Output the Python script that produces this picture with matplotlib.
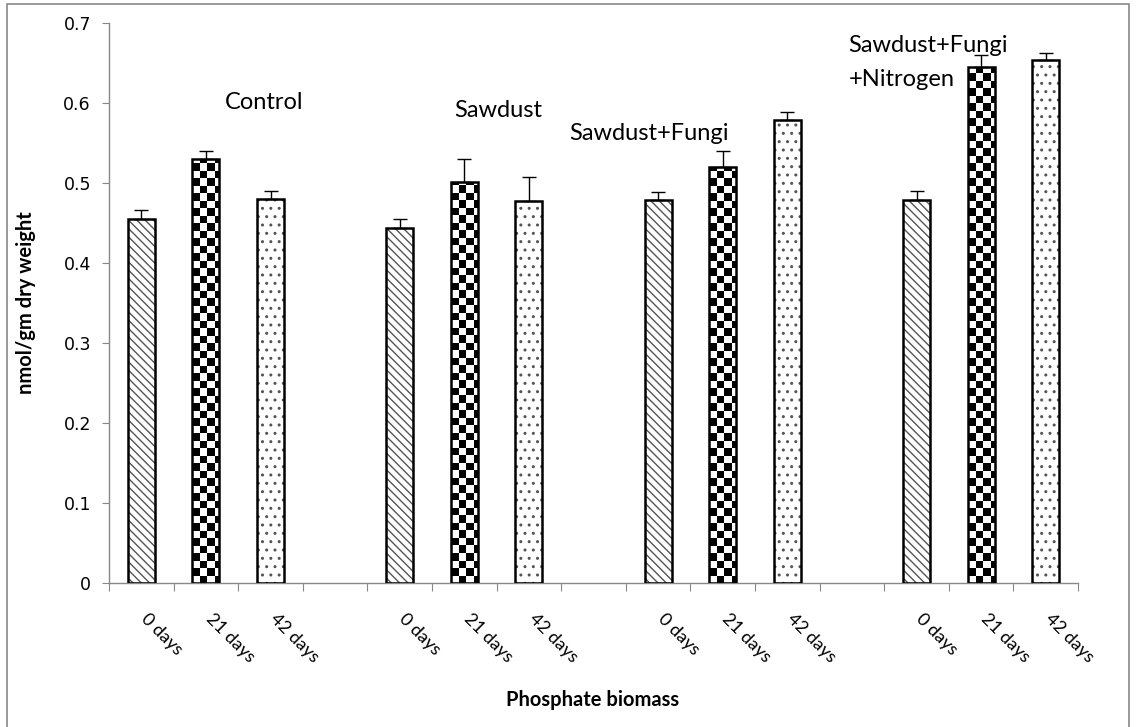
import numpy as np
import matplotlib
matplotlib.use("Agg")
import matplotlib.pyplot as plt
from matplotlib.patches import Rectangle
from matplotlib.transforms import ScaledTranslation

# dati
gruppi = ["Control", "Sawdust", "Sawdust+Fungi", "Sawdust+Fungi\n+Nitrogen"]
giorni = ["0 days", "21 days", "42 days"]
valori = [
    [0.455, 0.530, 0.480],
    [0.444, 0.501, 0.477],
    [0.479, 0.520, 0.579],
    [0.479, 0.645, 0.654],
]
errori = [
    [0.011, 0.010, 0.010],
    [0.011, 0.029, 0.030],
    [0.010, 0.020, 0.010],
    [0.011, 0.015, 0.009],
]

font_testo = ["Lato", "DejaVu Sans"]
plt.rcParams["hatch.linewidth"] = 1.0

fig = plt.figure(figsize=(11.39, 7.27), dpi=100)
ax = fig.add_axes([109 / 1139, 1 - 583 / 727, (1078 - 109) / 1139, (583 - 23) / 727])

# 3 barre per gruppo + uno spazio vuoto tra i gruppi
n_slot = len(gruppi) * 4 - 1
larg = 0.42
tratteggi = ["\\\\\\\\", None, ".."]

for g in range(len(gruppi)):
    for d in range(len(giorni)):
        x = g * 4 + d
        v = valori[g][d]
        if d == 1:
            sfondo = ax.bar(x, v, width=larg, color="white", edgecolor="none", zorder=2)[0]
            # scacchiera dentro la barra
            dx, dy = 7.5 / 64.6, 7.5 / 800
            nc = int(np.ceil(larg / dx)) + 1
            nr = int(np.ceil(v / dy)) + 1
            scacchi = (np.add.outer(np.arange(nr), np.arange(nc)) % 2).astype(float)
            x0 = sfondo.get_x()
            im = ax.imshow(scacchi, cmap="gray_r", interpolation="nearest", origin="lower",
                           extent=(x0, x0 + nc * dx, 0, nr * dy), aspect="auto", zorder=2.5)
            im.set_clip_path(sfondo)
        else:
            ax.bar(x, v, width=larg, color="white", edgecolor="#555555", linewidth=0,
                   hatch=tratteggi[d], zorder=2)
        ax.bar(x, v, width=larg, color="none", edgecolor="black", linewidth=1.8, zorder=3)
        ax.errorbar(x, v, yerr=[[0], [errori[g][d]]], fmt="none", ecolor="black",
                    elinewidth=1, capsize=5, capthick=1, zorder=4)

        # etichetta ruotata sotto l'asse
        sposta = ScaledTranslation(8 / 100, -28 / 100, fig.dpi_scale_trans)
        ax.text(x, 0, giorni[d], rotation=-45, rotation_mode="anchor", ha="left", va="top",
                fontsize=13, family=font_testo, transform=ax.get_xaxis_transform() + sposta)

ax.set_xlim(-0.5, n_slot - 0.5)
ax.set_ylim(0, 0.7)
ax.set_yticks(np.arange(0, 0.71, 0.1))
ax.set_yticklabels(["0", "0.1", "0.2", "0.3", "0.4", "0.5", "0.6", "0.7"], fontsize=12.5)

ax.set_xticks(np.arange(-0.5, n_slot, 1.0))
ax.set_xticklabels([])
ax.tick_params(axis="x", length=6, color="#888888", direction="out")
ax.tick_params(axis="y", length=5, color="#888888", direction="out", pad=8)

for lato in ["top", "right"]:
    ax.spines[lato].set_visible(False)
for lato in ["left", "bottom"]:
    ax.spines[lato].set_color("#888888")
    ax.spines[lato].set_linewidth(1)

fig.text(26 / 1139, 1 - 303 / 727, "nmol/gm dry weight", rotation=90, fontsize=14.5,
         fontweight="bold", family=font_testo, ha="center", va="center")
fig.text(593 / 1139, 1 - 700 / 727, "Phosphate biomass", fontsize=14.5,
         fontweight="bold", family=font_testo, ha="center", va="center")

# etichette dei gruppi
ax.text(1.9, 0.601, gruppi[0], fontsize=17, ha="center", va="center", family=font_testo)
ax.text(5.52, 0.591, gruppi[1], fontsize=17, ha="center", va="center", family=font_testo)
ax.text(7.86, 0.5625, gruppi[2], fontsize=17, ha="center", va="center", family=font_testo)
righe = gruppi[3].split("\n")
ax.text(10.95, 0.672, righe[0], fontsize=17, ha="left", va="center", family=font_testo)
ax.text(10.95, 0.629, righe[1], fontsize=17, ha="left", va="center", family=font_testo)

# cornice esterna (il bordo inferiore esce dall'immagine)
fig.patches.append(Rectangle((7 / 1139, -0.05), 1122 / 1139, 1.05 - 4 / 727,
                             transform=fig.transFigure, fill=False, edgecolor="#888888",
                             linewidth=1.2))

fig.savefig("out.png", dpi=100)
